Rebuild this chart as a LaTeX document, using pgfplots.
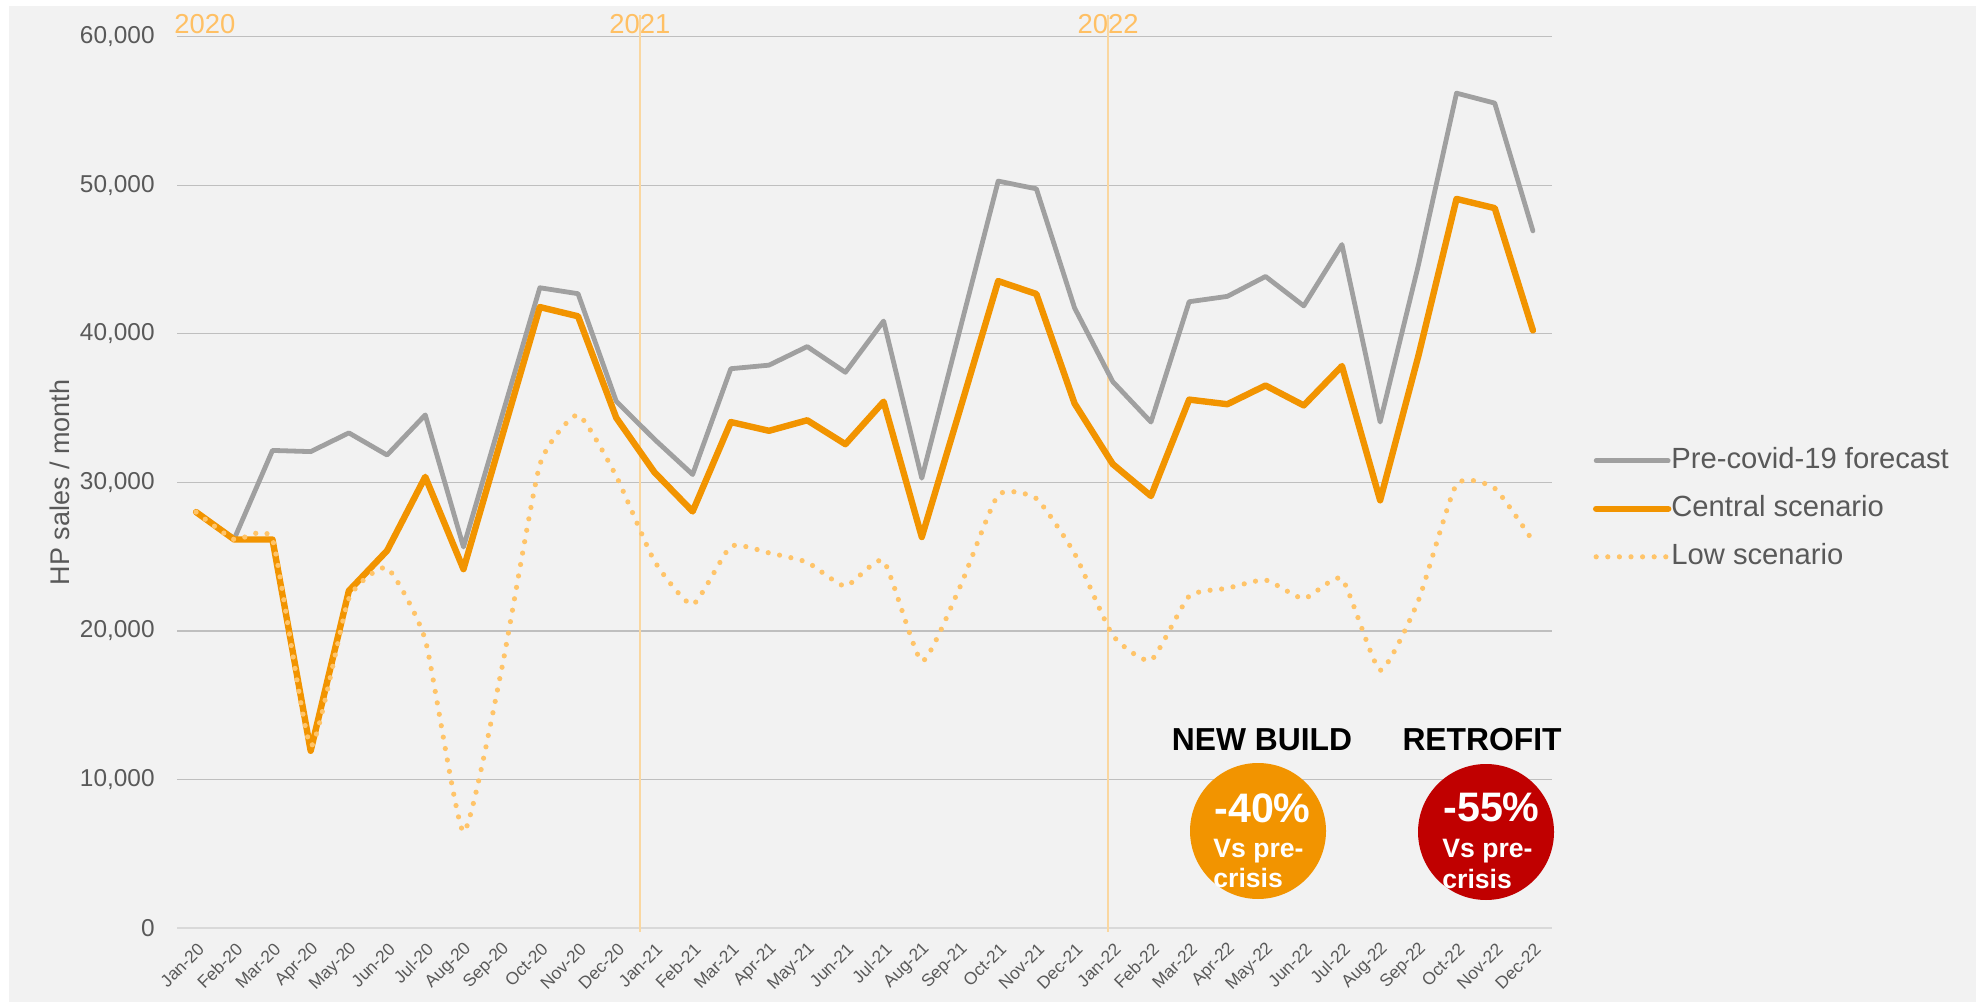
\documentclass[border=0pt]{standalone}
\usepackage{pgfplots}
\pgfplotsset{compat=1.18}
\usepackage{fontspec}
\setmainfont{Liberation Sans}
\definecolor{cGray}{HTML}{A0A0A0}
\definecolor{cOrange}{HTML}{F29400}
\definecolor{cLow}{HTML}{FFC469}
\definecolor{cRed}{HTML}{C00000}
\definecolor{cText}{HTML}{595959}
\definecolor{cGrid}{HTML}{BFBFBF}
\definecolor{cZero}{HTML}{D9D9D9}
\definecolor{cBg}{HTML}{F2F2F2}
\definecolor{cYearLine}{HTML}{FAD7A0}
\definecolor{cYear}{HTML}{FFC064}
\begin{document}
\begin{tikzpicture}
\useasboundingbox (0,0) rectangle (992.5pt,501pt);
\fill[white] (0,0) rectangle (992.5pt,501pt);
\begin{scope}[shift={(0pt,501pt)},x=0.5pt,y=-0.5pt]
\fill[cBg] (9,6) rectangle (1976,1002);
\end{scope}
\begin{axis}[
  at={(88.5pt,37pt)}, anchor=south west,
  scale only axis, width=687.5pt, height=445.65pt,
  xmin=-0.5, xmax=35.5, ymin=0, ymax=60000,
  clip=false,
  axis x line*=bottom, axis y line*=left,
  x axis line style={draw=cZero, line width=1pt, -},
  y axis line style={draw=none},
  ymajorgrids, grid style={draw=cGrid, line width=0.6pt},
  major tick length=0pt,
  ytick={0,10000,20000,30000,40000,50000,60000},
  scaled y ticks=false,
  yticklabel style={/pgf/number format/fixed, /pgf/number format/precision=0, /pgf/number format/1000 sep={,}, /pgf/number format/assume math mode=true, font=\fontsize{12.2}{14}\selectfont, text=cText, inner sep=0pt, xshift=-11pt},
  xtick={0,1,...,35},
  xticklabels={Jan-20,Feb-20,Mar-20,Apr-20,May-20,Jun-20,Jul-20,Aug-20,Sep-20,Oct-20,Nov-20,Dec-20,Jan-21,Feb-21,Mar-21,Apr-21,May-21,Jun-21,Jul-21,Aug-21,Sep-21,Oct-21,Nov-21,Dec-21,Jan-22,Feb-22,Mar-22,Apr-22,May-22,Jun-22,Jul-22,Aug-22,Sep-22,Oct-22,Nov-22,Dec-22},
  xticklabel style={xshift=2.6pt, yshift=-9pt, rotate=45, anchor=east, inner sep=0pt, font=\fontsize{8.7}{10}\selectfont, text=cText},
  ylabel={HP sales / month},
  ylabel style={at={(axis description cs:-0.0855,0.5)}, anchor=center, font=\fontsize{13.5}{15}\selectfont, text=cText},
  legend style={at={(1.0298,0.4703)}, anchor=west, draw=none, fill=none, inner sep=0pt, outer sep=0pt, row sep=10.5pt,
    nodes={inner sep=0pt, text height=10.5pt, text depth=3pt, font=\fontsize{14.6}{16}\selectfont, text=cText},
    /tikz/every even column/.append style={column sep=3pt}},
  legend cell align=left,
  legend image code/.code={\draw[#1] (0pt,0pt) -- (36pt,0pt);},
]
% year separators
\addplot[forget plot, draw=cYearLine, line width=0.8pt] coordinates {(11.62,-250) (11.62,61460)};
\addplot[forget plot, draw=cYearLine, line width=0.8pt] coordinates {(23.88,-250) (23.88,61460)};

\addplot[draw=cGray, line width=2.4pt, line cap=round, line join=round] coordinates {
(0,28000)(1,26200)(2,32150)(3,32070)(4,33330)(5,31840)(6,34540)(7,25650)(8,34400)(9,43100)(10,42700)(11,35460)
(12,32900)(13,30530)(14,37650)(15,37890)(16,39140)(17,37410)(18,40860)(19,30280)(20,40300)(21,50280)(22,49760)(23,41740)
(24,36780)(25,34060)(26,42160)(27,42520)(28,43860)(29,41880)(30,46010)(31,34060)(32,44600)(33,56200)(34,55530)(35,46930)};
\addlegendentry{Pre-covid-19 forecast}

\addplot[draw=cOrange, line width=3.2pt, line cap=round, line join=round] coordinates {
(0,28000)(1,26150)(2,26150)(3,11930)(4,22700)(5,25400)(6,30370)(7,24160)(8,33000)(9,41800)(10,41180)(11,34350)
(12,30680)(13,28040)(14,34060)(15,33470)(16,34180)(17,32570)(18,35430)(19,26320)(20,34900)(21,43550)(22,42680)(23,35310)
(24,31230)(25,29080)(26,35570)(27,35260)(28,36520)(29,35180)(30,37830)(31,28790)(32,38500)(33,49080)(34,48460)(35,40230)};
\addlegendentry{Central scenario}

\addplot[draw=cLow, line width=2.6pt, line cap=round, dash pattern=on 0pt off 5.8pt, smooth, tension=0.3] coordinates {
(0,28000)(1,26150)(2,26150)(3,12260)(4,22180)(5,24240)(6,19400)(7,6470)(8,17420)(9,31190)(10,34540)(11,30420)
(12,24700)(13,21770)(14,25690)(15,25250)(16,24620)(17,23010)(18,24710)(19,17960)(20,22960)(21,29150)(22,28910)(23,25210)
(24,19700)(25,18020)(26,22340)(27,22870)(28,23430)(29,22170)(30,23510)(31,17350)(32,22030)(33,29870)(34,29600)(35,26050)};
\addlegendentry{Low scenario}

\node[anchor=base, text=cYear, font=\fontsize{13.7}{15}\selectfont, yshift=1.8pt, inner sep=0pt] at (axis cs:0.23,60000) {2020};
\node[anchor=base, text=cYear, font=\fontsize{13.7}{15}\selectfont, yshift=1.8pt, inner sep=0pt] at (axis cs:11.62,60000) {2021};
\node[anchor=base, text=cYear, font=\fontsize{13.7}{15}\selectfont, yshift=1.8pt, inner sep=0pt] at (axis cs:23.88,60000) {2022};
\end{axis}
\begin{scope}[shift={(0pt,501pt)},x=0.5pt,y=-0.5pt]
\node[font=\fontsize{15.9}{17}\bfseries\selectfont, inner sep=0pt] at (1262,740) {NEW BUILD};
\node[font=\fontsize{15.9}{17}\bfseries\selectfont, inner sep=0pt] at (1482,740) {RETROFIT};
\fill[cOrange] (1258,831) circle[radius=34pt];
\fill[cRed] (1486,832) circle[radius=34pt];
\node[anchor=base west, inner sep=0pt, text=white, font=\fontsize{20.6}{22}\bfseries\selectfont] at (1214,822) {-40\%};
\node[anchor=base west, inner sep=0pt, text=white, font=\fontsize{13.3}{15}\bfseries\selectfont] at (1213,857) {Vs pre-};
\node[anchor=base west, inner sep=0pt, text=white, font=\fontsize{13.3}{15}\bfseries\selectfont] at (1213,887) {crisis};
\node[anchor=base west, inner sep=0pt, text=white, font=\fontsize{20.6}{22}\bfseries\selectfont] at (1443,821) {-55\%};
\node[anchor=base west, inner sep=0pt, text=white, font=\fontsize{13.3}{15}\bfseries\selectfont] at (1442,857) {Vs pre-};
\node[anchor=base west, inner sep=0pt, text=white, font=\fontsize{13.3}{15}\bfseries\selectfont] at (1442,888) {crisis};
\end{scope}
\end{tikzpicture}
\end{document}
